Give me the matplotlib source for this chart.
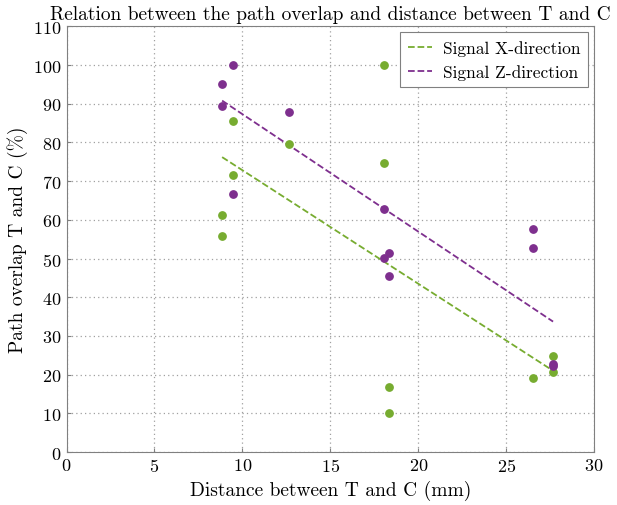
import matplotlib
matplotlib.use("Agg")
import matplotlib.pyplot as plt

plt.rcParams["font.family"] = ["cmr10", "DejaVu Serif"]
plt.rcParams["mathtext.fontset"] = "cm"
plt.rcParams["axes.formatter.use_mathtext"] = True

# data
x_sig_x = [8.85, 8.85, 9.47, 9.47, 12.65, 18.06, 18.06, 18.34, 18.34, 26.5, 27.67, 27.67]
y_sig_x = [55.7, 61.2, 71.6, 85.6, 79.7, 100.0, 74.8, 16.7, 10.0, 19.1, 24.9, 20.6]
x_sig_z = [8.85, 8.85, 9.47, 9.47, 12.65, 18.06, 18.06, 18.34, 18.34, 26.5, 26.5, 27.67, 27.67]
y_sig_z = [89.3, 95.1, 100.0, 66.6, 87.8, 62.8, 50.1, 51.3, 45.4, 57.6, 52.8, 22.8, 22.1]

# trend lines (endpoints)
fit_x = [8.85, 27.67]
fit_sig_x = [76.2, 21.0]
fit_sig_z = [90.8, 33.7]

green = "#77AC30"
purple = "#7E2F8E"

fig = plt.figure(figsize=(6.17, 5.06), dpi=100)
ax = fig.add_axes([0.1078, 0.1047, 0.855, 0.8413])

ax.scatter(x_sig_x, y_sig_x, s=28, color=green, zorder=3)
ax.scatter(x_sig_z, y_sig_z, s=28, color=purple, zorder=3)
ax.plot(fit_x, fit_sig_x, "--", color=green, lw=1.3, label="Signal X-direction", zorder=2)
ax.plot(fit_x, fit_sig_z, "--", color=purple, lw=1.3, label="Signal Z-direction", zorder=2)

ax.set_xlim(0, 30)
ax.set_ylim(0, 110)
ax.set_xticks(range(0, 31, 5))
ax.set_yticks(range(0, 111, 10))
ax.grid(True, linestyle=(0, (1, 2.5)), color="#a0a0a0", linewidth=0.9)
ax.tick_params(direction="in", labelsize=13, color="#808080", length=3)
for s in ax.spines.values():
    s.set_color("#808080")

ax.set_xlabel("Distance between T and C (mm)", fontsize=14)
ax.set_ylabel("Path overlap T and C (%)", fontsize=14)
ax.set_title("Relation between the path overlap and distance between T and C", fontsize=14, pad=5)

leg = ax.legend(loc="upper right", fontsize=12.5, fancybox=False, framealpha=1,
                edgecolor="#808080", handlelength=1.4, handletextpad=0.6,
                borderaxespad=0.35, borderpad=0.45, labelspacing=0.45)
leg.get_frame().set_linewidth(0.8)

fig.savefig("out.png", dpi=100)
